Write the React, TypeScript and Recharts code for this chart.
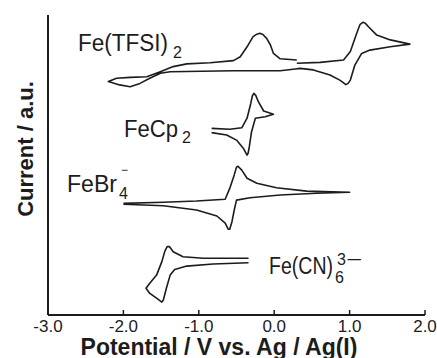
import { Line, LineChart, XAxis, YAxis } from "recharts";

// Cyclic voltammograms, potential (V) vs current (arbitrary units, stacked with offsets)
const tfsiPotential = [
    0.3, 0.61, 0.92, 1.01, 1.07, 1.11, 1.14, 1.18, 1.21, 1.25, 1.36, 1.54, 1.8,
    1.54, 1.27, 1.16, 1.07, 1.01, 0.98, 0.95, 0.92, 0.87, 0.74, 0.52, 0.34, 0.28, 0.08, -0.54, -1.38, -1.51, -1.65, -1.78, -1.91, -2.05, -2.2,
    -2.09, -1.91, -1.69, -1.51, -1.34, -1.16, -0.85, -0.54, -0.45, -0.36, -0.28, -0.23, -0.19, -0.15, -0.1, -0.05, -0.01, 0.08, 0.3,
];
const tfsiCurrent = [
    83.9, 84.2, 85, 87.8, 92.2, 95, 96.9, 97.6, 97.2, 96.1, 93.3, 91.7, 90.3,
    89.4, 88.3, 87.2, 83.3, 78.3, 77.2, 76.8, 77.4, 78.3, 80, 81.7, 82.2, 82, 81.4, 81.4, 81.1, 80.6, 78.9, 77.2, 76.1, 76.7, 77.8,
    78.9, 79.2, 79.4, 81.1, 82.8, 83.7, 84.1, 84.8, 86.1, 89.4, 92.8, 93.6, 93.9, 93.5, 92.2, 90, 87.2, 85.4, 85,
];

const cpPotential = [
    -0.83, -0.59, -0.43, -0.36, -0.31, -0.29, -0.27, -0.245, -0.21, -0.14, -0.01,
    -0.12, -0.25, -0.3, -0.33, -0.345, -0.36, -0.38, -0.41, -0.5, -0.63, -0.83,
];
const cpCurrent = [
    62.2, 61.9, 62.4, 65.6, 70.6, 73, 73.9, 73.2, 71.1, 68, 66.9,
    66.1, 65.6, 61.1, 56.1, 54, 53.3, 54.2, 55.6, 58.3, 60, 60.8,
];

const brPotential = [
    -2.0, -1.47, -1.03, -0.65, -0.59, -0.53, -0.5, -0.48, -0.43, -0.36, -0.23, 0.03, 0.43, 1.0,
    0.56, 0.08, -0.32, -0.5, -0.53, -0.56, -0.59, -0.61, -0.65, -0.76, -1.03, -1.47, -2.0,
];
const brCurrent = [
    37.2, 37.6, 38, 38.6, 42.2, 46.7, 49.3, 49.6, 48.3, 45.6, 43.9, 42.4, 41.3, 40.9,
    40.6, 40, 39.1, 38.3, 35, 31.1, 28.6, 28.6, 30.6, 33, 35, 36.4, 36.9,
];

const cnPotential = [
    -0.34, -0.81, -1.16, -1.32, -1.38, -1.43, -1.47, -1.49, -1.56, -1.65, -1.7,
    -1.65, -1.56, -1.49, -1.45, -1.42, -1.39, -1.34, -1.21, -0.94, -0.34,
];
const cnCurrent = [
    17.4, 17, 16.3, 15.2, 13.3, 8.9, 5, 4.3, 5.6, 7.2, 8.9,
    10.6, 13.3, 17.8, 21.3, 22.8, 22.8, 21.1, 19.4, 18.9, 18.9,
];

const xTicks = [-3, -2, -1, 0, 1, 2];

const toRows = (v: number[], c: number[]) => v.map((x, i) => ({ v: x, i: c[i] }));

const series = [
    { key: "tfsi", data: toRows(tfsiPotential, tfsiCurrent) },
    { key: "cp", data: toRows(cpPotential, cpCurrent) },
    { key: "br", data: toRows(brPotential, brCurrent) },
    { key: "cn", data: toRows(cnPotential, cnCurrent) },
];

const FONT = "'Liberation Sans', Arial, sans-serif";
const INK = "#1c1c1c";

const InwardTick = (props: any) => {
    const { x, y, payload } = props;
    return (
        <g>
            <line x1={x} y1={y} x2={x} y2={y - 5} stroke={INK} strokeWidth={1.5} />
            <text x={x} y={y + 17} textAnchor="middle" fontSize={17} fontFamily={FONT} fill={INK}>
                {Number(payload.value).toFixed(1)}
            </text>
        </g>
    );
};

const App = () => {
    return (
        <div style={{ position: "absolute", left: 0, top: 0, width: 437, height: 358, background: "#fff" }}>
            <LineChart width={437} height={358} margin={{ top: 15, right: 12, left: 0, bottom: 0 }}>
                <XAxis
                    type="number"
                    dataKey="v"
                    domain={[-3, 2]}
                    ticks={xTicks}
                    allowDataOverflow
                    height={43}
                    tickSize={0}
                    tickMargin={0}
                    tickLine={false}
                    axisLine={{ stroke: INK, strokeWidth: 2 }}
                    tick={<InwardTick />}
                />
                <YAxis
                    type="number"
                    dataKey="i"
                    domain={[0, 100]}
                    width={48}
                    tick={false}
                    tickLine={false}
                    axisLine={{ stroke: INK, strokeWidth: 2 }}
                />
                {series.map((s) => (
                    <Line
                        key={s.key}
                        data={s.data}
                        dataKey="i"
                        type="linear"
                        stroke={INK}
                        strokeWidth={1.6}
                        strokeLinejoin="round"
                        dot={false}
                        isAnimationActive={false}
                    />
                ))}
            </LineChart>
            <svg
                width={437}
                height={358}
                style={{ position: "absolute", left: 0, top: 0, pointerEvents: "none" }}
                fontFamily={FONT}
                fill={INK}
            >
                <text x={78} y={51} fontSize={23} textLength={90} lengthAdjust="spacingAndGlyphs">
                    Fe(TFSI)
                </text>
                <text x={173} y={58} fontSize={16}>2</text>
                <text x={124} y={137} fontSize={23} textLength={54} lengthAdjust="spacingAndGlyphs">
                    FeCp
                </text>
                <text x={182} y={143} fontSize={16}>2</text>
                <text x={67} y={192} fontSize={23} textLength={50} lengthAdjust="spacingAndGlyphs">
                    FeBr
                </text>
                <text x={119} y={199} fontSize={16}>4</text>
                <text x={121} y={174} fontSize={12}>−</text>
                <text x={269} y={274} fontSize={23} textLength={64} lengthAdjust="spacingAndGlyphs">
                    Fe(CN)
                </text>
                <text x={335} y={283} fontSize={16}>6</text>
                <text x={337} y={265} fontSize={16}>3</text>
                <text x={346} y={265} fontSize={16} textLength={16} lengthAdjust="spacingAndGlyphs">
                    −
                </text>
                <text
                    transform="translate(33,149) rotate(-90)"
                    textAnchor="middle"
                    fontSize={22}
                    fontWeight="bold"
                >
                    Current / a.u.
                </text>
                <text x={219} y={355} textAnchor="middle" fontSize={23} fontWeight="bold">
                    Potential / V vs. Ag / Ag(I)
                </text>
            </svg>
        </div>
    );
};

export default App;
